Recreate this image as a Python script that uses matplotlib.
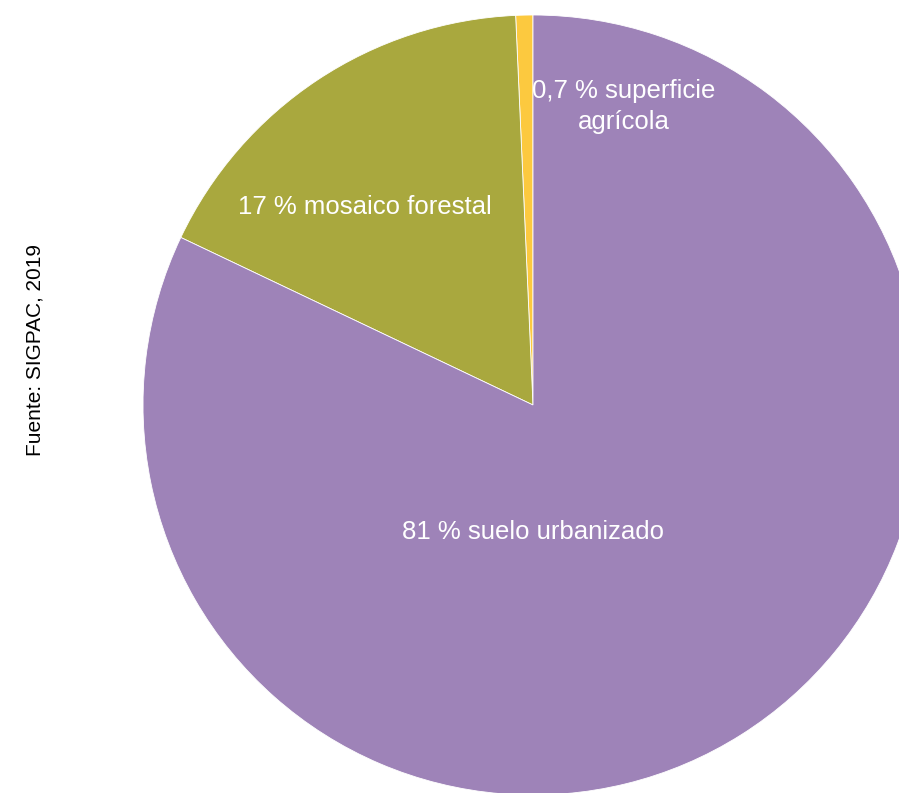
import matplotlib.pyplot as plt

plt.rcParams['font.family'] = ['Liberation Sans', 'DejaVu Sans']

# data (order: counterclockwise from 12 o'clock)
labels = ["0,7 % superficie\nagrícola", "17 % mosaico forestal", "81 % suelo urbanizado"]
values = [0.7, 17, 81]
colors = ["#fcc93f", "#a9a83e", "#9e83b8"]
source = "Fuente: SIGPAC, 2019"

W, H = 899, 793
fig = plt.figure(figsize=(W / 100, H / 100), dpi=100)

# pie centre (533, 405) px, radius 390 px
cx, cy, r = 533, 405, 390
ax = fig.add_axes([(cx - r) / W, (H - cy - r) / H, 2 * r / W, 2 * r / H])
wedges, _ = ax.pie(values, colors=colors, startangle=90, counterclock=True,
                   wedgeprops=dict(edgecolor="white", linewidth=0.6))
ax.set_xlim(-1, 1)
ax.set_ylim(-1, 1)
ax.set_aspect("equal")
ax.axis("off")
for w in wedges:
    w.set_clip_on(False)

# label positions in data units (relative to radius)
label_pos = [(0.233, 0.765), (-0.431, 0.508), (0.0, -0.326)]
for txt, (x, y) in zip(labels, label_pos):
    ax.text(x, y, txt, ha="center", va="center", color="white", fontsize=18.5,
            linespacing=1.4)

fig.text(35 / W, 1 - 350 / H, source, rotation=90, ha="center", va="center",
         fontsize=15, color="black")

fig.savefig("out.png", dpi=100)
